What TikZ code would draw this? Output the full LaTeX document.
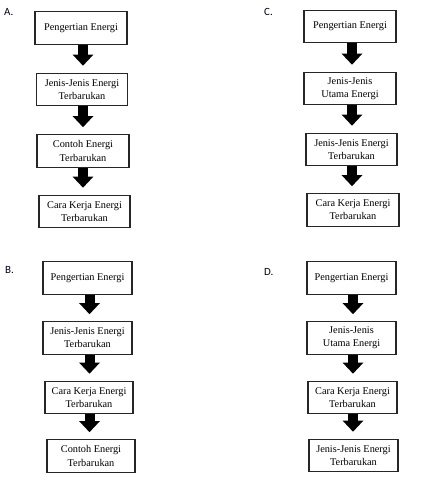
\documentclass[tikz,border=0pt]{standalone}
\usepackage{fontspec}
\setmainfont{Liberation Serif}
\newfontfamily\labfont{Carlito}
\usetikzlibrary{arrows.meta}
\begin{document}
\begin{tikzpicture}[x=1pt,y=-1pt,
  stepbox/.style={draw=black!85, line width=1.1pt, inner sep=0pt, align=center,
    font=\fontsize{10.3}{13.2}\selectfont, minimum height=32.5pt},
  blockarrow/.style={line width=10pt, black, shorten >=7pt,
    -{Triangle[width=20pt,length=11pt]}},
  lab/.style={font=\labfont\fontsize{11}{12}\selectfont, anchor=west, inner sep=0pt, text=black!90!blue}]
\useasboundingbox (0,0) rectangle (427,485);
% Panel A
\node[lab] (labA) at (4,12) {A.};
\node[stepbox, minimum width=92pt] (a1) at (81,28) {Pengertian Energi};
\node[stepbox, minimum width=91pt] (a2) at (82,89.5) {Jenis-Jenis Energi\\Terbarukan};
\node[stepbox, minimum width=92pt] (a3) at (83,151) {Contoh Energi\\Terbarukan};
\node[stepbox, minimum width=91pt] (a4) at (84.5,211.5) {Cara Kerja Energi\\Terbarukan};
\coordinate (ax) at (83,0);
\draw[blockarrow] (ax |- a1.south) -- (ax |- a2.north);
\draw[blockarrow] (ax |- a2.south) -- (ax |- a3.north);
\draw[blockarrow] (ax |- a3.south) -- (ax |- a4.north);
% Panel C
\node[lab] (labC) at (264,12) {C.};
\node[stepbox, minimum width=92pt] (c1) at (350,26.5) {Pengertian Energi};
\node[stepbox, minimum width=92pt] (c2) at (350,88.5) {Jenis-Jenis\\Utama Energi};
\node[stepbox, minimum width=91pt] (c3) at (351.5,149.5) {Jenis-Jenis Energi\\Terbarukan};
\node[stepbox, minimum width=92pt] (c4) at (353,210) {Cara Kerja Energi\\Terbarukan};
\coordinate (cx) at (352,0);
\draw[blockarrow] (cx |- c1.south) -- (cx |- c2.north);
\draw[blockarrow] (cx |- c2.south) -- (cx |- c3.north);
\draw[blockarrow] (cx |- c3.south) -- (cx |- c4.north);
% Panel B
\node[lab] (labB) at (5,270.5) {B.};
\node[stepbox, minimum width=89pt] (b1) at (87.5,278) {Pengertian Energi};
\node[stepbox, minimum width=89pt] (b2) at (87.5,338) {Jenis-Jenis Energi\\Terbarukan};
\node[stepbox, minimum width=88pt] (b3) at (89,397.5) {Cara Kerja Energi\\Terbarukan};
\node[stepbox, minimum width=88pt] (b4) at (91,456) {Contoh Energi\\Terbarukan};
\coordinate (bx) at (89.5,0);
\draw[blockarrow] (bx |- b1.south) -- (bx |- b2.north);
\draw[blockarrow] (bx |- b2.south) -- (bx |- b3.north);
\draw[blockarrow] (bx |- b3.south) -- (bx |- b4.north);
% Panel D
\node[lab] (labD) at (264,272) {D.};
\node[stepbox, minimum width=89pt] (d1) at (351.5,278) {Pengertian Energi};
\node[stepbox, minimum width=89pt] (d2) at (351.5,338) {Jenis-Jenis\\Utama Energi};
\node[stepbox, minimum width=89pt] (d3) at (352.5,397.5) {Cara Kerja Energi\\Terbarukan};
\node[stepbox, minimum width=89pt] (d4) at (353.5,455.5) {Jenis-Jenis Energi\\Terbarukan};
\coordinate (dx) at (353,0);
\draw[blockarrow] (dx |- d1.south) -- (dx |- d2.north);
\draw[blockarrow] (dx |- d2.south) -- (dx |- d3.north);
\draw[blockarrow] (dx |- d3.south) -- (dx |- d4.north);
\end{tikzpicture}
\end{document}
